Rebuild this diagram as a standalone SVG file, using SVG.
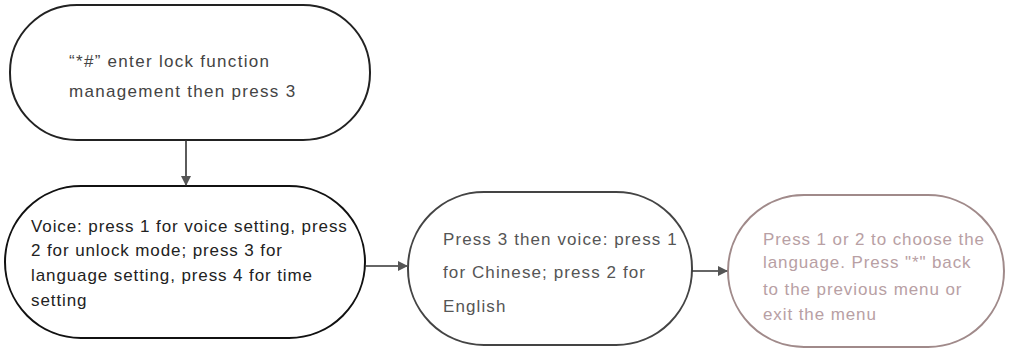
<svg xmlns="http://www.w3.org/2000/svg" width="1009" height="350" viewBox="0 0 1009 350">
<style>
.node{fill:#fff;stroke-width:2}
text{font-family:"Liberation Sans",Arial,sans-serif;font-size:17px;letter-spacing:0.9px}
#n1 text{letter-spacing:1.3px}
.conn{stroke:#333;stroke-width:1.6;fill:none}
</style>
<defs>
<marker id="ah" markerWidth="10" markerHeight="10" refX="9" refY="5" orient="auto" markerUnits="userSpaceOnUse">
<path d="M0,0 L10,5 L0,10 Z" fill="#555"/>
</marker>
</defs>
<rect width="1009" height="350" fill="#fff"/>
<g id="n1">
<rect class="node" x="10" y="5" width="360" height="135" rx="67" stroke="#222"/>
<text x="69" y="67" fill="#444">“*#” enter lock function</text>
<text x="69" y="97" fill="#444">management then press 3</text>
</g>
<g id="n2">
<rect class="node" x="5" y="186" width="360" height="152" rx="76" stroke="#111"/>
<text x="31" y="232" fill="#222">Voice: press 1 for voice setting, press</text>
<text x="31" y="256" fill="#222">2 for unlock mode; press 3 for</text>
<text x="31" y="281" fill="#222">language setting, press 4 for time</text>
<text x="31" y="306" fill="#222">setting</text>
</g>
<g id="n3">
<rect class="node" x="408" y="192" width="284" height="153" rx="76" stroke="#444"/>
<text x="443" y="245" fill="#555" style="letter-spacing:1.1px">Press 3 then voice: press 1</text>
<text x="443" y="278" fill="#555" style="letter-spacing:1.1px">for Chinese; press 2 for</text>
<text x="443" y="312" fill="#555" style="letter-spacing:1.1px">English</text>
</g>
<g id="n4">
<rect class="node" x="728" y="195" width="276" height="152" rx="76" stroke="#a08a8a"/>
<text x="763" y="245" fill="#b8a0a4">Press 1 or 2 to choose the</text>
<text x="763" y="268" fill="#b8a0a4">language. Press "*" back</text>
<text x="763" y="295" fill="#b8a0a4">to the previous menu or</text>
<text x="763" y="320" fill="#b8a0a4">exit the menu</text>
</g>
<g id="connectors">
<line class="conn" x1="186" y1="140" x2="186" y2="185" marker-end="url(#ah)"/>
<line class="conn" x1="365" y1="266" x2="407" y2="266" marker-end="url(#ah)"/>
<line class="conn" x1="692" y1="271" x2="727" y2="271" marker-end="url(#ah)"/>
</g>
</svg>
